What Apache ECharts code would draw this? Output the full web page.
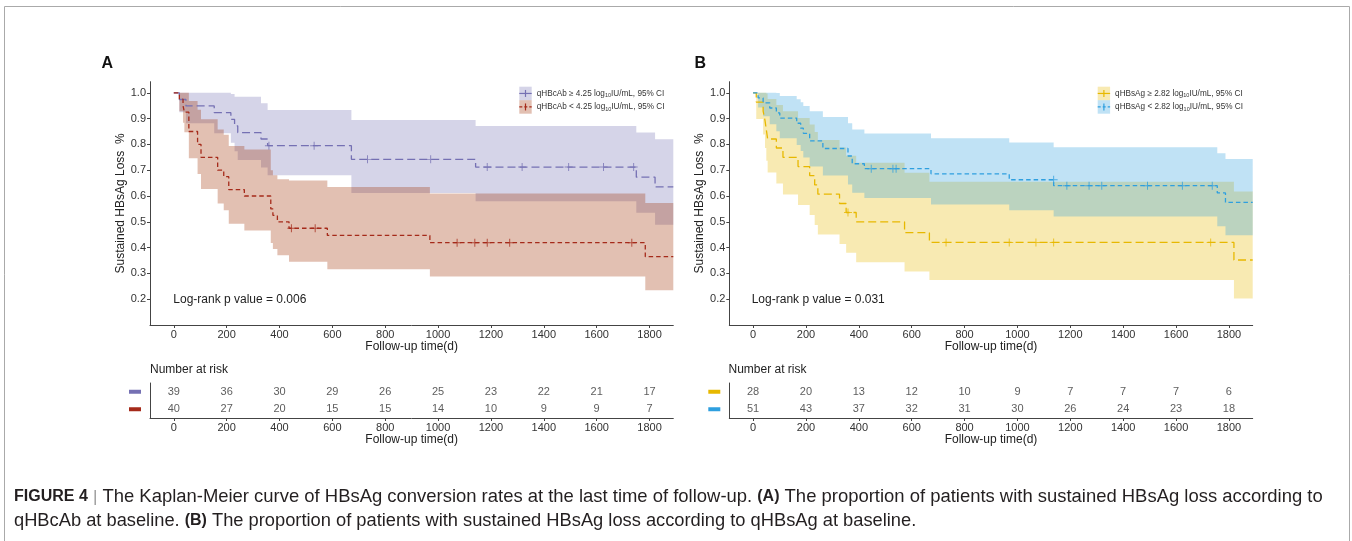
<!DOCTYPE html>
<html><head><meta charset="utf-8">
<script src="https://cdn.jsdelivr.net/npm/echarts@6/dist/echarts.min.js"></script>
<style>html,body{margin:0;padding:0;background:#fff}#c{width:1352px;height:541px}</style>
</head><body><div id="c"></div>
<script>
// ---------- data ----------
const xTicks = [0, 200, 400, 600, 800, 1000, 1200, 1400, 1600, 1800];
const yTicks = [0.2, 0.3, 0.4, 0.5, 0.6, 0.7, 0.8, 0.9, 1.0];

// Panel A, qHBcAb >= 4.25
const timeA1 = [0, 21, 46, 153, 216, 230, 242, 330, 355, 672, 1142, 1750, 1821, 1890];
const survA1 = [1, .974, .949, .923, .897, .872, .846, .821, .795, .742, .712, .673, .635, .635];
const lowA1  = [1, .925, .882, .843, .806, .773, .74, .71, .68, .612, .58, .535, .489, .489];
const upA1   = [1, 1, 1, 1, .995, .985, .985, .959, .933, .895, .871, .846, .82, .82];
const censA1 = [[360, .795], [531, .795], [733, .742], [972, .742], [1186, .712], [1318, .712], [1494, .712], [1626, .712], [1740, .712]];
// Panel A, qHBcAb < 4.25
const timeA2 = [0, 21, 35, 40, 57, 90, 103, 166, 189, 208, 267, 367, 375, 392, 436, 581, 969, 1784, 1890];
const survA2 = [1, .975, .95, .925, .85, .8, .75, .7, .675, .625, .6, .55, .525, .5, .475, .447, .419, .365, .365];
const lowA2  = [1, .928, .884, .847, .746, .685, .627, .571, .545, .492, .466, .418, .395, .37, .345, .316, .288, .235, .235];
const upA2   = [1, 1, 1, 1, .968, .934, .897, .858, .837, .794, .78, .70, .68, .665, .66, .635, .61, .573, .573];
const censA2 = [[445, .475], [535, .475], [1072, .419], [1139, .419], [1186, .419], [1271, .419], [1733, .419]];
// Panel B, qHBsAg >= 2.82
const timeB1 = [0, 12, 38, 45, 50, 55, 88, 113, 170, 214, 233, 245, 327, 352, 390, 573, 667, 1819, 1890];
const survB1 = [1, .964, .929, .893, .857, .821, .786, .75, .714, .679, .643, .607, .571, .536, .5, .458, .42, .352, .352];
const lowB1  = [1, .898, .838, .786, .737, .691, .648, .606, .565, .526, .488, .451, .414, .38, .343, .307, .274, .203, .203];
const upB1   = [1, 1, 1, 1, .997, .976, .953, .928, .902, .877, .848, .817, .788, .756, .729, .69, .655, .617, .617];
const censB1 = [[359, .536], [730, .42], [969, .42], [1070, .42], [1137, .42], [1731, .42]];
// Panel B, qHBsAg < 2.82
const timeB2 = [0, 19, 38, 63, 88, 101, 165, 180, 190, 214, 264, 359, 375, 421, 673, 969, 1137, 1756, 1787, 1890];
const survB2 = [1, .98, .961, .941, .922, .902, .882, .863, .843, .814, .784, .755, .725, .706, .686, .663, .64, .612, .575, .575];
const lowB2  = [1, .943, .909, .878, .851, .824, .798, .774, .749, .714, .679, .645, .613, .592, .567, .545, .521, .483, .448, .448];
const upB2   = [1, 1, 1, 1, .999, .988, .975, .963, .949, .928, .906, .882, .858, .842, .824, .807, .789, .766, .743, .743];
const censB2 = [[447, .706], [529, .706], [541, .706], [1137, .663], [1187, .64], [1271, .64], [1319, .64], [1492, .64], [1624, .64], [1737, .64]];

// Number at risk
const riskA1 = [39, 36, 30, 29, 26, 25, 23, 22, 21, 17];
const riskA2 = [40, 27, 20, 15, 15, 14, 10, 9, 9, 7];
const riskB1 = [28, 20, 13, 12, 10, 9, 7, 7, 7, 6];
const riskB2 = [51, 43, 37, 32, 31, 30, 26, 24, 23, 18];

const legendA = ['qHBcAb \u2265 4.25 log', 'qHBcAb < 4.25 log'];
const legendB = ['qHBsAg \u2265 2.82 log', 'qHBsAg < 2.82 log'];

// ---------- style ----------
const C = {purple: '#7570B3', red: '#A52A1A', redFill: '#A02E00', yellow: '#E7B800', blue: '#2E9FDF'};
const FONT = "'Liberation Sans', Arial, sans-serif";
const AX = '#444', TX = '#333';
const plusPath = 'path://M-1.2,-10H1.2V-1.2H10V1.2H1.2V10H-1.2V1.2H-10V-1.2H-1.2Z';
const grids = [
  {left: 150, top: 81.7, width: 523.3, height: 243.3},
  {left: 729.3, top: 81.7, width: 523.4, height: 243.3},
  {left: 150, top: 383, width: 523.3, height: 35},
  {left: 729.3, top: 383, width: 523.4, height: 35}
];

function xAx(gi) {
  return {
    gridIndex: gi, type: 'value', min: -90, max: 1890,
    axisLine: {show: true, onZero: false, lineStyle: {color: AX, width: 1}},
    axisTick: {show: true, customValues: xTicks, length: 3, lineStyle: {color: AX}},
    axisLabel: {customValues: xTicks, formatter: v => String(v), margin: 4, fontSize: 11, color: TX, fontFamily: FONT},
    splitLine: {show: false},
    name: 'Follow-up time(d)', nameLocation: 'middle', nameGap: 16,
    nameTextStyle: {fontSize: 12, color: '#222', fontFamily: FONT}
  };
}
function yAx(gi) {
  return {
    gridIndex: gi, type: 'value', min: 0.1, max: 1.043,
    axisLine: {show: true, onZero: false, lineStyle: {color: AX, width: 1}},
    axisTick: {show: true, customValues: yTicks, length: 3, lineStyle: {color: AX}},
    axisLabel: {customValues: yTicks, formatter: v => v.toFixed(1), margin: 4, fontSize: 11, color: TX, fontFamily: FONT},
    splitLine: {show: false},
    name: 'Sustained HBsAg Loss  %', nameLocation: 'middle', nameGap: 22, nameRotate: 90,
    nameTextStyle: {fontSize: 12, color: '#222', fontFamily: FONT}
  };
}
function yRisk(gi, c1, c2) {
  return {
    gridIndex: gi, type: 'category', data: ['g2', 'g1'],
    axisLine: {show: true, onZero: false, lineStyle: {color: AX}},
    axisTick: {show: false},
    axisLabel: {margin: 9, formatter: v => '{' + v + '|}',
      rich: {g1: {backgroundColor: c1, width: 12, height: 4}, g2: {backgroundColor: c2, width: 12, height: 4}}},
    splitLine: {show: false}
  };
}

function band(xi, t, lo, up, color) {
  return {
    type: 'custom', xAxisIndex: xi, yAxisIndex: xi, z: 1, silent: true,
    data: t.map((x, i) => [x, lo[i], up[i]]),
    encode: {x: 0, y: [1, 2]},
    renderItem: function (params, api) {
      if (params.dataIndex !== 0) return null;
      const pts = [];
      for (let i = 0; i < t.length - 1; i++) {
        pts.push(api.coord([t[i], up[i]]));
        pts.push(api.coord([t[i + 1], up[i]]));
      }
      for (let i = t.length - 2; i >= 0; i--) {
        pts.push(api.coord([t[i + 1], lo[i]]));
        pts.push(api.coord([t[i], lo[i]]));
      }
      return {type: 'polygon', shape: {points: pts}, style: {fill: color, opacity: 0.3}};
    }
  };
}
function curve(xi, t, s, color, dash) {
  return {
    type: 'line', xAxisIndex: xi, yAxisIndex: xi, z: 3, step: 'end', showSymbol: false, silent: true,
    data: t.map((x, i) => [x, s[i]]),
    lineStyle: {color: color, width: 1.3, type: dash}
  };
}
function cens(xi, d, color) {
  return {
    type: 'scatter', xAxisIndex: xi, yAxisIndex: xi, z: 4, silent: true,
    symbol: plusPath, symbolSize: 8, data: d, itemStyle: {color: color}
  };
}
function risk(xi, arr, cat) {
  return {
    type: 'scatter', xAxisIndex: xi, yAxisIndex: xi, symbolSize: 0, silent: true,
    data: xTicks.map((x, i) => [x, cat, arr[i]]),
    label: {show: true, position: 'inside', formatter: p => String(p.value[2]), fontSize: 11, color: TX, fontFamily: FONT}
  };
}

function legend(x0, labels, cols, fills, dashes) {
  const els = [];
  const rows = [86.7, 100.2];
  labels.forEach((lab, i) => {
    const y = rows[i], h = 13.5, w = 12.4, cy = y + h / 2;
    els.push({type: 'rect', shape: {x: x0, y: y, width: w, height: h}, style: {fill: fills[i], opacity: 0.3}, silent: true});
    els.push({type: 'line', shape: {x1: x0, y1: cy, x2: x0 + w, y2: cy}, style: {stroke: cols[i], lineWidth: 1.2, lineDash: dashes[i]}, silent: true});
    els.push({type: 'line', shape: {x1: x0 + w / 2, y1: cy - 3.5, x2: x0 + w / 2, y2: cy + 3.5}, style: {stroke: cols[i], lineWidth: 1.2}, silent: true});
    els.push({type: 'text', x: x0 + w + 5, y: cy, silent: true, style: {
      text: lab + '{s|10}IU/mL, 95% CI', font: '8.2px ' + FONT, fill: '#333', verticalAlign: 'middle',
      rich: {s: {fontSize: 5.5, fontFamily: FONT, fill: '#333', padding: [5, 0, 0, 0]}}
    }});
  });
  return els;
}

const capRich = {b: {fontWeight: 'bold', fontSize: 16, fontFamily: FONT, fill: '#231f20'}, g: {fontSize: 17, fontFamily: FONT, fill: '#999'}};
const graphics = [
  {type: 'rect', shape: {x: 4.5, y: 6.5, width: 1345, height: 560}, style: {fill: 'none', stroke: '#aaa', lineWidth: 1}, silent: true},
  {type: 'text', x: 101.5, y: 64, style: {text: 'A', font: 'bold 16px ' + FONT, fill: '#111', verticalAlign: 'middle'}},
  {type: 'text', x: 694.5, y: 64, style: {text: 'B', font: 'bold 16px ' + FONT, fill: '#111', verticalAlign: 'middle'}},
  {type: 'text', x: 173.3, y: 300, style: {text: 'Log-rank p value = 0.006', font: '12px ' + FONT, fill: '#222', verticalAlign: 'middle'}},
  {type: 'text', x: 751.7, y: 300, style: {text: 'Log-rank p value = 0.031', font: '12px ' + FONT, fill: '#222', verticalAlign: 'middle'}},
  {type: 'text', x: 150, y: 369.5, style: {text: 'Number at risk', font: '12px ' + FONT, fill: '#222', verticalAlign: 'middle'}},
  {type: 'text', x: 728.5, y: 369.5, style: {text: 'Number at risk', font: '12px ' + FONT, fill: '#222', verticalAlign: 'middle'}},
  {type: 'text', x: 14, y: 497, style: {
    text: '{b|FIGURE 4} {g||} The Kaplan-Meier curve of HBsAg conversion rates at the last time of follow-up. {b|(A)} The proportion of patients with sustained HBsAg loss according to',
    font: '18.45px ' + FONT, fill: '#231f20', verticalAlign: 'middle', rich: capRich
  }},
  {type: 'text', x: 14, y: 521, style: {
    text: 'qHBcAb at baseline. {b|(B)} The proportion of patients with sustained HBsAg loss according to qHBsAg at baseline.',
    font: '18.3px ' + FONT, fill: '#231f20', verticalAlign: 'middle', rich: capRich
  }}
].concat(
  legend(519.3, legendA, [C.purple, C.red], [C.purple, C.redFill], [null, [3, 2]]),
  legend(1097.7, legendB, [C.yellow, C.blue], [C.yellow, C.blue], [null, [3, 2]])
);

const option = {
  animation: false,
  backgroundColor: '#fff',
  textStyle: {fontFamily: FONT},
  grid: grids,
  xAxis: [xAx(0), xAx(1), xAx(2), xAx(3)],
  yAxis: [yAx(0), yAx(1), yRisk(2, C.purple, C.red), yRisk(3, C.yellow, C.blue)],
  series: [
    band(0, timeA1, lowA1, upA1, C.purple),
    band(0, timeA2, lowA2, upA2, C.redFill),
    curve(0, timeA1, survA1, C.purple, [8, 4]),
    curve(0, timeA2, survA2, C.red, [4.5, 3]),
    cens(0, censA1, C.purple),
    cens(0, censA2, C.red),
    band(1, timeB1, lowB1, upB1, C.yellow),
    band(1, timeB2, lowB2, upB2, C.blue),
    curve(1, timeB1, survB1, C.yellow, [8, 4]),
    curve(1, timeB2, survB2, C.blue, [4.5, 3]),
    cens(1, censB1, C.yellow),
    cens(1, censB2, C.blue),
    risk(2, riskA1, 'g1'), risk(2, riskA2, 'g2'),
    risk(3, riskB1, 'g1'), risk(3, riskB2, 'g2')
  ],
  graphic: graphics
};
const chart = echarts.init(document.getElementById('c'), null, {renderer: 'canvas'});
chart.setOption(option);
</script></body></html>
